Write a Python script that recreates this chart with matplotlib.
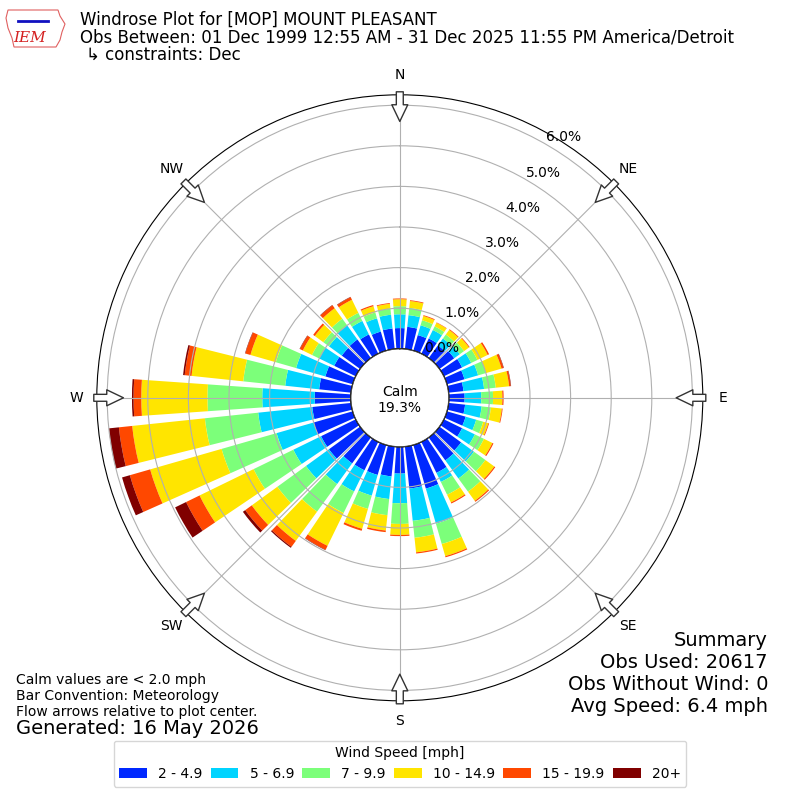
import numpy as np
import matplotlib
matplotlib.use('Agg')
import matplotlib.pyplot as plt
from matplotlib.patches import Patch, Circle, Polygon

# wind direction bins (deg, meteorological) and speed bins
directions = np.arange(0, 360, 10)
speed_labels = ['2 - 4.9', '5 - 6.9', '7 - 9.9', '10 - 14.9', '15 - 19.9', '20+']
colors = ['#0028ff', '#00d4ff', '#7cff7a', '#ffe500', '#ff4800', '#800000']

# cumulative frequency (%) at the top of each speed bin, per direction
cum_2 = [.51, .55, .40, .42, .39, .45, .50, .45, .37, .39, .41, .48, .50, .66, .70, .85, 1.12, 1.04,
         .66, .74, .77, .78, .79, .95, .95, 1.00, .96, .89, .79, .70, .59, .56, .57, .53, .49, .51]
cum_5 = [.85, .84, .65, .65, .60, .62, .75, .80, .88, .80, .82, .75, .85, 1.05, 1.25, 1.10, 2.02, 1.84,
         1.39, 1.30, 1.30, 1.36, 1.42, 1.65, 1.71, 1.95, 2.30, 2.18, 1.63, 1.45, 1.00, .95, 1.00, .90, .83, .85]
cum_7 = [1.05, 1.02, .78, .75, .72, .75, .92, 1.00, 1.17, 1.09, 1.05, .93, 1.10, 1.40, 1.65, 1.45, 2.54, 2.26,
         1.90, 1.70, 1.64, 1.95, 2.26, 2.52, 2.80, 3.36, 3.62, 3.53, 2.67, 1.97, 1.20, 1.12, 1.20, 1.12, .98, 1.00]
cum_10 = [1.22, 1.19, .89, .85, .86, .90, 1.20, 1.40, 1.50, 1.32, 1.32, 1.06, 1.33, 1.67, 1.93, 1.66, 2.85, 2.62,
          2.17, 2.08, 2.15, 2.85, 3.15, 3.30, 4.28, 5.19, 5.42, 5.16, 3.95, 2.62, 1.45, 1.38, 1.52, 1.48, 1.14, 1.12]
cum_15 = [1.24, 1.21, .91, .86, .88, .92, 1.24, 1.45, 1.54, 1.35, 1.34, 1.08, 1.36, 1.70, 1.96, 1.69, 2.88, 2.65,
          2.20, 2.12, 2.20, 2.96, 3.33, 3.50, 4.65, 5.71, 5.75, 5.35, 4.12, 2.75, 1.53, 1.43, 1.61, 1.55, 1.17, 1.14]
cum_20 = [1.24, 1.21, .91, .86, .88, .92, 1.24, 1.46, 1.55, 1.35, 1.34, 1.08, 1.36, 1.70, 1.96, 1.69, 2.88, 2.65,
          2.20, 2.12, 2.20, 2.97, 3.36, 3.57, 4.95, 5.91, 6.00, 5.39, 4.16, 2.76, 1.54, 1.43, 1.62, 1.56, 1.17, 1.14]

calm_pct = 19.3
rticks = [0, 1, 2, 3, 4, 5, 6]
compass = ['N', 'NE', 'E', 'SE', 'S', 'SW', 'W', 'NW']

fig = plt.figure(figsize=(8, 8), dpi=100)
ax = fig.add_axes([0.121, 0.124, 0.7575, 0.7575], projection='polar')
ax.set_theta_zero_location('N')
ax.set_theta_direction(-1)
ax.set_axisbelow(False)

theta = np.deg2rad(directions)
width = np.deg2rad(8)
levels = [np.zeros(len(directions)), cum_2, cum_5, cum_7, cum_10, cum_15, cum_20]
for i in range(6):
    lo = np.array(levels[i])
    hi = np.array(levels[i + 1])
    ax.bar(theta, hi - lo, bottom=lo, width=width, color=colors[i], linewidth=0)

ax.set_rorigin(-1.207)
ax.set_ylim(0, 6.256)
ax.set_yticks(rticks)
ax.set_yticklabels(['%.1f%%' % v for v in rticks], fontsize=10)
ax.set_rlabel_position(30)
ax.set_thetagrids(np.arange(0, 360, 45), labels=compass, fontsize=10)
ax.tick_params(axis='x', pad=4)

# calm circle in the middle
ax.add_patch(Circle((0.5, 0.5), 49 / 606, transform=ax.transAxes, fc='white', ec='k', lw=1, zorder=3))
ax.text(0.5, 0.497, 'Calm\n%.1f%%' % calm_pct, transform=ax.transAxes, ha='center', va='center',
        fontsize=10, zorder=4)

# flow arrows at the edge
for d in np.arange(0, 360, 45):
    ax.annotate('', xy=(np.deg2rad(d), 5.60), xytext=(np.deg2rad(d), 6.33),
                arrowprops=dict(arrowstyle='simple,head_length=1.2,head_width=1.15,tail_width=0.5',
                                fc='white', ec='#333333', lw=1, shrinkA=0, shrinkB=0,
                                mutation_scale=10, clip_on=False),
                annotation_clip=False, zorder=5)

# header
fig.text(0.1, 1 - 20 / 800, 'Windrose Plot for [MOP] MOUNT PLEASANT', fontsize=12, va='center')
fig.text(0.1, 1 - 38 / 800, 'Obs Between: 01 Dec 1999 12:55 AM - 31 Dec 2025 11:55 PM America/Detroit',
         fontsize=12, va='center')
fig.text(0.107, 1 - 55 / 800, '\u21b3 constraints: Dec', fontsize=12, va='center')

# little IEM logo
iowa = [(8, 10), (58, 10), (60, 16), (65, 24), (62, 32), (60, 40), (56, 47), (14, 47), (12, 38),
        (8, 28), (6, 18)]
fig.patches.append(Polygon([(x / 800, 1 - y / 800) for x, y in iowa], closed=True, fill=False,
                           ec='#e06060', lw=0.8, transform=fig.transFigure))
fig.text(30 / 800, 1 - 38 / 800, 'IEM', color='#d42020', fontsize=11, family='DejaVu Serif',
         style='italic', ha='center', va='center')
fig.lines.append(plt.Line2D([18 / 800, 48 / 800], [1 - 21 / 800, 1 - 21 / 800], color='#1010c0', lw=2,
                            transform=fig.transFigure))

# footer text
fig.text(0.02, 1 - 680 / 800, 'Calm values are < 2.0 mph', fontsize=10, va='center')
fig.text(0.02, 1 - 696 / 800, 'Bar Convention: Meteorology', fontsize=10, va='center')
fig.text(0.02, 1 - 712 / 800, 'Flow arrows relative to plot center.', fontsize=10, va='center')
fig.text(0.02, 1 - 729 / 800, 'Generated: 16 May 2026', fontsize=14, va='center')

summary = ['Summary', 'Obs Used: 20617', 'Obs Without Wind: 0', 'Avg Speed: 6.4 mph']
for i, s in enumerate(summary):
    fig.text(0.96, 1 - (640 + 22 * i) / 800, s, fontsize=14, ha='right', va='center')

handles = [Patch(facecolor=c) for c in colors]
fig.legend(handles, speed_labels, loc='lower center', bbox_to_anchor=(0.5, 0.008), ncol=6,
           title='Wind Speed [mph]', fontsize=10, title_fontsize=10, columnspacing=0.6)

fig.savefig('out.png', dpi=100)
